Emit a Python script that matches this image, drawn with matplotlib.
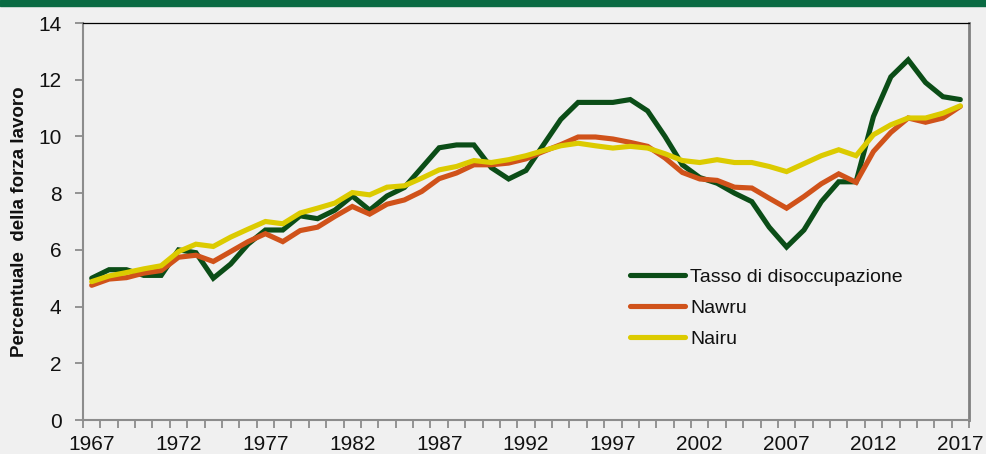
import matplotlib
matplotlib.use('Agg')
import matplotlib.pyplot as plt
from matplotlib.ticker import FixedLocator, NullFormatter

# data (percent of labour force)
years = list(range(1967, 2018))
tasso = [5.0, 5.3, 5.3, 5.1, 5.1, 6.0, 5.9, 5.0, 5.5, 6.2,
         6.7, 6.7, 7.2, 7.1, 7.4, 7.9, 7.4, 7.9, 8.2, 8.9,
         9.6, 9.7, 9.7, 8.9, 8.5, 8.8, 9.7, 10.6, 11.2, 11.2,
         11.2, 11.3, 10.9, 10.0, 9.0, 8.55, 8.35, 8.0, 7.7, 6.8,
         6.1, 6.7, 7.7, 8.4, 8.4, 10.7, 12.1, 12.7, 11.9, 11.4,
         11.3]
nawru = [4.75, 4.97, 5.02, 5.18, 5.27, 5.74, 5.81, 5.59, 5.94, 6.29,
         6.57, 6.29, 6.68, 6.8, 7.18, 7.53, 7.26, 7.61, 7.76, 8.06,
         8.51, 8.71, 9.0, 9.0, 9.06, 9.21, 9.47, 9.71, 9.98, 9.98,
         9.91, 9.79, 9.65, 9.24, 8.73, 8.5, 8.45, 8.21, 8.18, 7.82,
         7.47, 7.88, 8.33, 8.68, 8.38, 9.47, 10.14, 10.65, 10.5, 10.65,
         11.06]
nairu = [4.88, 5.08, 5.2, 5.33, 5.44, 5.94, 6.2, 6.12, 6.45, 6.73,
         7.0, 6.92, 7.3, 7.47, 7.65, 8.02, 7.94, 8.21, 8.26, 8.53,
         8.82, 8.94, 9.15, 9.08, 9.18, 9.32, 9.5, 9.67, 9.76, 9.67,
         9.59, 9.65, 9.59, 9.39, 9.15, 9.08, 9.18, 9.08, 9.08, 8.94,
         8.76, 9.04, 9.32, 9.53, 9.32, 10.06, 10.41, 10.65, 10.65, 10.82,
         11.08]
series_names = ['Tasso di disoccupazione', 'Nawru', 'Nairu']
series_colors = ['#0b4d17', '#d0521a', '#dccb00']

plt.rcParams['font.family'] = ['Liberation Sans', 'DejaVu Sans']

bg = '#f0f0f0'
fig = plt.figure(figsize=(9.86, 4.54), dpi=100, facecolor=bg)
# green band at the top
fig.patches.append(plt.Rectangle((0, 1 - 6 / 454), 1, 6 / 454, transform=fig.transFigure,
                                 color='#0a6b43', zorder=0))

ax = fig.add_axes([83 / 986, 1 - 420 / 454, (969 - 83) / 986, (420 - 23) / 454])
ax.set_facecolor(bg)

x = list(range(len(years)))
for vals, name, col in zip([tasso, nawru, nairu], series_names, series_colors):
    ax.plot(x, vals, color=col, lw=3.7, label=name, solid_capstyle='round',
            solid_joinstyle='miter')

ax.set_xlim(-0.5, len(years) - 0.5)
ax.set_ylim(0, 14)
ax.set_yticks(range(0, 15, 2))

# category axis: tick marks between years, labels every 5 years
ax.xaxis.set_major_locator(FixedLocator([i - 0.5 for i in range(len(years) + 1)]))
ax.xaxis.set_major_formatter(NullFormatter())
lab_pos = list(range(0, len(years), 5))
ax.xaxis.set_minor_locator(FixedLocator(lab_pos))
ax.set_xticklabels([str(years[i]) for i in lab_pos], minor=True)
ax.tick_params(axis='x', which='major', length=6, width=1.3, color='#8c8c8c', direction='out')
ax.tick_params(axis='x', which='minor', length=0, pad=11, labelsize=15, labelcolor='#111111')
ax.tick_params(axis='y', length=6, width=1.3, color='#8c8c8c', labelsize=15,
               labelcolor='#111111', pad=9.5)

for side in ['left', 'bottom']:
    ax.spines[side].set_color('#8c8c8c')
    ax.spines[side].set_linewidth(1.5)
ax.spines['right'].set_color('#808080')
ax.spines['right'].set_linewidth(2)
ax.spines['top'].set_color('#000000')
ax.spines['top'].set_linewidth(0.9)

fig.text(20 / 986, 1 - 222 / 454, 'Percentuale  della forza lavoro', rotation=90,
         ha='center', va='center', fontsize=13.5, fontweight='bold', color='#111111')

leg = ax.legend(loc='upper left', bbox_to_anchor=(630 / 986, 1 - 268 / 454),
                bbox_transform=fig.transFigure, frameon=False, fontsize=14,
                handlelength=2.85, handletextpad=0.25, labelspacing=0.7,
                borderpad=0, borderaxespad=0)
for t in leg.get_texts():
    t.set_color('#111111')

fig.savefig('out.png', dpi=100, facecolor=bg)
